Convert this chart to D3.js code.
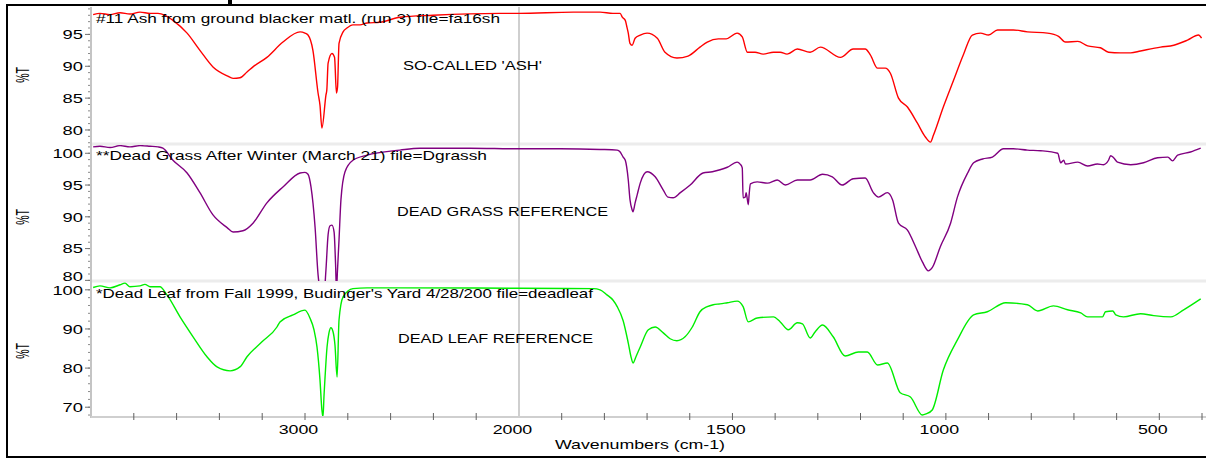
<!DOCTYPE html>
<html><head><meta charset="utf-8">
<script src="https://cdn.jsdelivr.net/npm/d3@7"></script>
<style>
body{margin:0;background:#fff;}
svg{display:block;}
text{font-family:"Liberation Sans", Arial, sans-serif;fill:#000;}
</style>
</head><body><svg id="c" width="1206" height="458"></svg>
<script>
// ---------- DATA (wavenumber cm-1, %T) ----------
const ashSpectrum = [[3990,98.1],[3958,98.3],[3911,98.1],[3864,98.4],[3818,98.2],[3771,98.5],[3724,98.3],[3687,98.3],[3654,98.0],[3617,97.2],[3551,95.2],[3491,92.5],[3430,89.9],[3364,88.5],[3336,88.1],[3304,88.2],[3271,89.1],[3243,89.9],[3178,91.4],[3103,93.8],[3023,95.4],[3000,95.2],[2986,94.9],[2963,92.5],[2939,85.8],[2930,83.9],[2921,80.3],[2902,85.5],[2898,86.3],[2892,90.5],[2874,92.0],[2862,91.4],[2853,85.8],[2848,86.7],[2841,93.6],[2822,95.4],[2804,96.0],[2776,96.5],[2743,96.5],[2710,96.8],[2650,96.9],[2556,97.7],[2402,98.0],[2089,98.3],[2000,98.3],[1873,98.5],[1810,98.5],[1780,98.3],[1763,98.3],[1758,97.7],[1751,97.2],[1747,96.1],[1744,95.2],[1740,93.6],[1735,93.3],[1728,94.4],[1716,94.9],[1700,95.2],[1676,94.4],[1658,92.2],[1630,91.3],[1604,91.6],[1576,93.0],[1559,93.8],[1533,94.3],[1515,94.3],[1489,95.2],[1477,94.6],[1465,92.2],[1447,92.2],[1428,91.9],[1404,92.2],[1388,92.2],[1372,91.9],[1348,92.7],[1318,92.2],[1294,93.0],[1247,91.4],[1217,92.7],[1189,92.7],[1177,91.8],[1160,89.7],[1142,89.7],[1130,88.9],[1111,85.0],[1090,83.6],[1067,81.1],[1048,78.9],[1036,78.1],[1029,79.2],[1006,83.6],[982,87.8],[959,91.8],[938,94.9],[919,95.2],[900,94.9],[879,95.7],[842,95.7],[809,95.4],[762,95.2],[736,94.7],[720,93.8],[691,93.9],[668,93.2],[638,92.9],[619,92.2],[591,92.1],[567,92.1],[544,92.4],[497,93.0],[466,93.3],[434,94.1],[408,94.9],[401,94.4]];

const grassSpectrum = [[3990,101.0],[3958,101.1],[3911,100.9],[3864,101.2],[3818,101.0],[3771,101.2],[3724,101.1],[3687,101.0],[3664,100.8],[3617,98.9],[3551,96.9],[3491,93.8],[3430,90.3],[3364,88.3],[3336,87.6],[3290,87.8],[3243,89.0],[3178,92.2],[3103,94.7],[3023,96.9],[3000,97.0],[2986,96.7],[2972,94.7],[2953,88.4],[2939,80.9],[2930,78.5],[2921,77.0],[2911,77.7],[2902,81.7],[2892,87.2],[2883,88.6],[2874,88.7],[2864,87.6],[2857,82.4],[2853,78.5],[2848,81.7],[2841,86.4],[2832,92.7],[2813,97.1],[2776,98.9],[2710,99.7],[2556,100.5],[2463,100.8],[2229,100.8],[2000,100.7],[1904,100.7],[1810,100.6],[1770,100.5],[1763,100.2],[1756,99.4],[1751,98.9],[1744,95.8],[1740,92.7],[1735,91.1],[1733,90.8],[1728,92.2],[1723,93.5],[1716,95.3],[1700,97.1],[1681,96.3],[1662,94.2],[1651,93.1],[1639,93.0],[1622,93.8],[1599,95.0],[1569,96.9],[1547,97.1],[1529,97.4],[1512,97.8],[1489,98.6],[1482,98.3],[1477,97.7],[1475,93.0],[1470,93.1],[1468,93.8],[1465,92.7],[1463,91.9],[1461,93.4],[1458,95.2],[1442,95.5],[1418,95.3],[1395,95.8],[1376,95.0],[1348,95.8],[1318,95.8],[1289,96.7],[1266,96.3],[1243,95.0],[1217,96.0],[1189,96.1],[1170,93.8],[1158,93.1],[1137,93.8],[1125,92.7],[1111,89.0],[1090,87.9],[1071,85.3],[1055,82.9],[1041,81.5],[1032,82.0],[1013,85.3],[989,89.0],[973,93.1],[949,96.9],[935,98.5],[914,99.1],[891,99.4],[865,100.7],[842,100.7],[809,100.5],[778,100.4],[738,100.0],[731,98.5],[724,98.9],[720,98.3],[691,98.6],[668,98.0],[645,98.3],[631,98.2],[619,98.9],[614,99.6],[607,99.3],[598,98.6],[567,98.2],[537,98.5],[504,99.3],[480,99.4],[469,98.8],[457,99.7],[427,100.2],[403,100.8]];

const leafSpectrum = [[3990,100.6],[3958,101.0],[3911,100.5],[3864,101.3],[3841,101.7],[3818,100.8],[3771,101.0],[3748,101.4],[3724,100.8],[3678,100.8],[3645,98.7],[3584,93.1],[3523,88.0],[3458,82.9],[3411,80.3],[3350,79.3],[3304,80.3],[3271,82.9],[3201,86.7],[3131,90.5],[3117,91.8],[3056,93.6],[3000,94.8],[2977,92.8],[2958,89.8],[2944,85.4],[2930,77.0],[2921,69.3],[2916,67.5],[2911,73.1],[2907,77.0],[2897,85.4],[2888,89.0],[2879,90.3],[2869,89.3],[2860,85.9],[2850,77.7],[2841,92.3],[2822,98.2],[2776,100.3],[2710,100.5],[2556,100.5],[2000,100.4],[1826,100.3],[1810,100.0],[1794,98.7],[1780,97.4],[1770,95.7],[1756,92.1],[1744,86.4],[1737,82.6],[1733,81.3],[1726,82.9],[1716,85.4],[1697,89.8],[1681,90.5],[1662,89.0],[1646,87.5],[1630,87.0],[1611,88.0],[1594,90.5],[1576,94.4],[1559,95.7],[1545,96.2],[1529,96.4],[1512,96.7],[1489,97.1],[1475,95.7],[1463,91.8],[1442,92.8],[1404,93.1],[1388,91.8],[1369,89.8],[1348,91.6],[1336,91.3],[1318,87.7],[1306,89.3],[1289,91.0],[1264,88.0],[1236,83.1],[1205,84.1],[1184,84.1],[1160,80.8],[1137,81.3],[1107,73.7],[1083,72.6],[1055,68.0],[1046,68.3],[1032,69.3],[1006,79.5],[973,87.2],[935,93.6],[903,94.4],[860,96.7],[809,96.2],[785,94.6],[748,95.9],[715,94.9],[684,94.1],[668,93.1],[633,93.1],[626,94.4],[609,94.6],[602,93.6],[584,93.1],[544,93.9],[513,93.4],[473,93.1],[443,94.9],[403,97.7]];

const xTickLabels = [3000, 2000, 1500, 1000, 500];
const ashYTicks = [80, 85, 90, 95];
const grassYTicks = [80, 85, 90, 95, 100];
const leafYTicks = [70, 80, 90, 100];
const titles = [
  "#11 Ash from ground blacker matl. (run 3) file=fa16sh",
  "**Dead Grass After Winter (March 21) file=Dgrassh",
  "*Dead Leaf from Fall 1999, Budinger's Yard 4/28/200 file=deadleaf"
];
const sampleLabels = ["SO-CALLED 'ASH'", "DEAD GRASS REFERENCE", "DEAD LEAF REFERENCE"];
const xAxisTitle = "Wavenumbers (cm-1)";
const yAxisTitle = "%T";

// ---------- LAYOUT ----------
const svg = d3.select("#c");
const L = 91, R = 1202;
const x = d3.scaleLinear().domain([4000, 2000, 400]).range([L, 519, R]);

const panels = [
  {data: ashSpectrum,   color: "#ff0000", top: 7,   bottom: 144, dom: [77.8, 99.3], ticks: ashYTicks,   minor: 1,
   titleY: 22.5, titleW: 404, lab: [403, 70, 139],  ylabY: 75},
  {data: grassSpectrum, color: "#800080", top: 145, bottom: 281, dom: [79.9, 101.3], ticks: grassYTicks, minor: 1,
   titleY: 160,  titleW: 391, lab: [397, 215.5, 211], ylabY: 217},
  {data: leafSpectrum,  color: "#00ee00", top: 282, bottom: 417, dom: [67.5, 102.0], ticks: leafYTicks,  minor: 2,
   titleY: 298,  titleW: 497, lab: [398, 342.5, 195], ylabY: 351}
];

// outer frame
svg.append("rect").attr("x", 7).attr("y", 5).attr("width", 1206).attr("height", 452)
  .attr("fill", "none").attr("stroke", "#000").attr("stroke-width", 2);
svg.append("rect").attr("x", 228).attr("y", 0).attr("width", 4).attr("height", 5).attr("fill", "#000");

// separators between panels
[144, 281].forEach(yy => svg.append("line").attr("x1", L).attr("x2", 1206).attr("y1", yy).attr("y2", yy)
  .attr("stroke", "#ececec").attr("stroke-width", 3));

// vertical line at 2000
svg.append("line").attr("x1", x(2000)).attr("x2", x(2000)).attr("y1", 7).attr("y2", 417)
  .attr("stroke", "#cfcfcf").attr("stroke-width", 2);

panels.forEach((p, i) => {
  const y = d3.scaleLinear().domain(p.dom).range([p.bottom, p.top]);
  const cid = "clip" + i;
  svg.append("clipPath").attr("id", cid).append("rect")
    .attr("x", L).attr("y", p.top).attr("width", R - L + 4).attr("height", p.bottom - p.top);

  // minor y ticks
  const minorVals = d3.range(Math.ceil(p.dom[0] / p.minor) * p.minor, p.dom[1], p.minor);
  svg.append("g").selectAll("line").data(minorVals).join("line")
    .attr("x1", L - 3).attr("x2", L).attr("y1", d => y(d)).attr("y2", d => y(d))
    .attr("stroke", "#8a8a8a").attr("stroke-width", 1);
  svg.append("g").selectAll("line").data(p.ticks).join("line")
    .attr("x1", L - 6).attr("x2", L).attr("y1", d => y(d)).attr("y2", d => y(d))
    .attr("stroke", "#707070").attr("stroke-width", 1);
  svg.append("g").selectAll("text").data(p.ticks).join("text")
    .attr("x", 83).attr("y", d => Math.min(y(d), p.bottom - 4.5)).attr("dy", "0.35em")
    .attr("text-anchor", "end").attr("font-size", 13.5)
    .attr("textLength", d => String(d).length * 10.2).attr("lengthAdjust", "spacingAndGlyphs")
    .text(d => d);

  // y axis title
  svg.append("text").attr("transform", `translate(29,${p.ylabY}) rotate(-90) scale(0.7,1.2)`)
    .attr("text-anchor", "middle").attr("font-size", 15).text(yAxisTitle);

  // spectrum
  const line = d3.line().x(d => x(d[0])).y(d => y(d[1])).curve(d3.curveMonotoneX);
  svg.append("path").datum(p.data).attr("d", line).attr("clip-path", `url(#${cid})`)
    .attr("fill", "none").attr("stroke", p.color).attr("stroke-width", 1.4).attr("stroke-linejoin", "round");

  // titles
  svg.append("text").attr("x", 96).attr("y", p.titleY).attr("font-size", 13)
    .attr("textLength", p.titleW).attr("lengthAdjust", "spacingAndGlyphs").text(titles[i]);
  svg.append("text").attr("x", p.lab[0]).attr("y", p.lab[1]).attr("font-size", 13.5)
    .attr("textLength", p.lab[2]).attr("lengthAdjust", "spacingAndGlyphs").text(sampleLabels[i]);
});

// y axis line
svg.append("line").attr("x1", L).attr("x2", L).attr("y1", 7).attr("y2", 418)
  .attr("stroke", "#c4c4c4").attr("stroke-width", 2);

// x axis
svg.append("line").attr("x1", L).attr("x2", 1206).attr("y1", 417).attr("y2", 417)
  .attr("stroke", "#cfcfcf").attr("stroke-width", 2);
const xMinor = d3.range(3800, 2000, -200).concat(d3.range(1900, 399, -100));
svg.append("g").selectAll("line").data(xMinor).join("line")
  .attr("x1", d => x(d)).attr("x2", d => x(d)).attr("y1", 413).attr("y2", 420)
  .attr("stroke", "#606060").attr("stroke-width", 1);
svg.append("g").selectAll("text").data(xTickLabels).join("text")
  .attr("x", d => x(d) - 6.5).attr("y", 433.5).attr("text-anchor", "middle").attr("font-size", 13.5)
  .attr("textLength", d => String(d).length * 9.9).attr("lengthAdjust", "spacingAndGlyphs")
  .text(d => d);
svg.append("text").attr("x", 640).attr("y", 449).attr("text-anchor", "middle").attr("font-size", 13.5)
  .attr("textLength", 170).attr("lengthAdjust", "spacingAndGlyphs").text(xAxisTitle);
</script>
</body></html>
